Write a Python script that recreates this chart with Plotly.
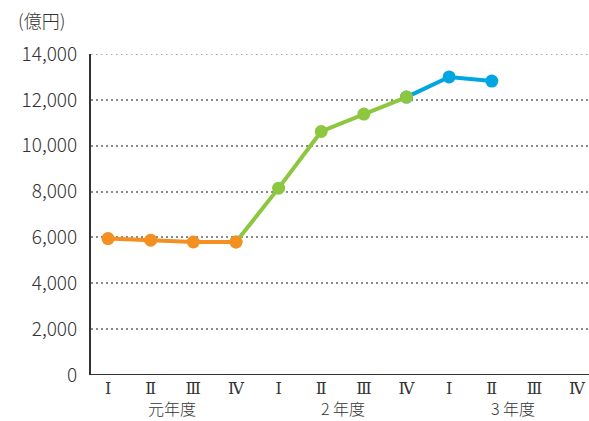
import plotly.graph_objects as go

quarters = ["Ⅰ", "Ⅱ", "Ⅲ", "Ⅳ", "Ⅰ", "Ⅱ", "Ⅲ", "Ⅳ", "Ⅰ", "Ⅱ", "Ⅲ", "Ⅳ"]
years = ["元年度", "2 年度", "3 年度"]
year_centers = [1.5, 5.5, 9.5]

orange_x = [0, 1, 2, 3]
orange_y = [5950, 5880, 5800, 5800]
green_x = [3, 4, 5, 6, 7]
green_y = [5800, 8150, 10620, 11380, 12120]
blue_x = [7, 8, 9]
blue_y = [12120, 13000, 12820]

yticks = [0, 2000, 4000, 6000, 8000, 10000, 12000, 14000]
ytick_text = ["0", "2,000", "4,000", "6,000", "8,000", "10,000", "12,000", "14,000"]

font = "Noto Sans CJK JP"
roman_font = "DejaVu Serif, Liberation Serif, Noto Sans CJK JP"

fig = go.Figure()
for xs, ys, col in [(blue_x, blue_y, "#00A6E2"),
                    (green_x, green_y, "#8DC63F"),
                    (orange_x, orange_y, "#F39021")]:
    fig.add_trace(go.Scatter(x=xs, y=ys, mode="lines+markers",
                             line=dict(color=col, width=4),
                             marker=dict(color=col, size=13),
                             showlegend=False, cliponaxis=False))

for xc, t in zip(year_centers, years):
    fig.add_annotation(x=xc, y=-0.104, xref="x", yref="paper", text=t,
                       showarrow=False, yanchor="middle", borderpad=0,
                       font=dict(family=font, size=16, color="#333333", weight=300))

fig.add_annotation(x=-0.15, y=1.107, xref="paper", yref="paper", text="(億円)",
                   showarrow=False, xanchor="left", yanchor="middle",
                   font=dict(family=font, size=18, color="#333333", weight=300))

fig.update_layout(
    width=589, height=421,
    margin=dict(l=91, r=0, t=54, b=46),
    plot_bgcolor="white", paper_bgcolor="white",
    font=dict(family=font, color="#333333"),
    xaxis=dict(range=[-0.4, 11.28], tickmode="array",
               tickvals=list(range(12)), ticktext=quarters,
               showgrid=False, zeroline=False, automargin=False,
               showline=False, ticks="", ticklabelstandoff=2,
               tickfont=dict(family=roman_font, size=16, color="#333333")),
    yaxis=dict(range=[0, 14000], tickmode="array", tickvals=yticks,
               ticktext=ytick_text, showgrid=True, gridcolor="#8a8a8a",
               griddash="1.5px,3.5px", gridwidth=1.5, zeroline=False, automargin=False,
               showline=True, linecolor="#333333", linewidth=2,
               ticks="", ticklabelstandoff=8,
               tickfont=dict(family=font, size=19, color="#333333", weight=300)),
)
fig.add_shape(type="line", xref="paper", yref="y", x0=0, x1=1, y0=0, y1=0,
              line=dict(color="#333333", width=2))
fig.add_shape(type="line", xref="paper", yref="y", x0=0, x1=1,
              y0=yticks[-1], y1=yticks[-1], layer="below",
              line=dict(color="#8a8a8a", width=1.5, dash="1.5px,3.5px"))

fig.write_html("out.html", post_script="document.body.style.margin='0';",
               config={"displayModeBar": False})
